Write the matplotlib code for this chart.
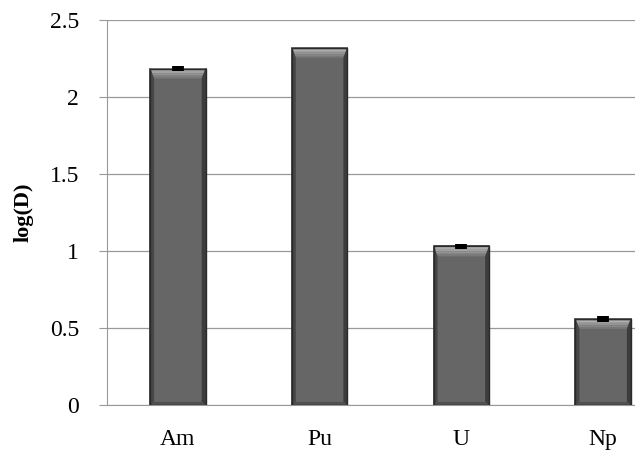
import numpy as np
import matplotlib.pyplot as plt
from matplotlib.patches import Polygon

plt.rcParams['font.family'] = ['Liberation Serif', 'DejaVu Serif']

elements = ['Am', 'Pu', 'U', 'Np']
log_d = [2.185, 2.32, 1.03, 0.56]
log_d_err = [0.018, 0.0, 0.018, 0.018]

W, H = 635, 453
fig = plt.figure(figsize=(W / 100, H / 100), dpi=100)
# right part of the plot area runs past the figure edge
ax = fig.add_axes([107 / W, 1 - 405 / H, (674 - 107) / W, (405 - 20) / H])

x = np.arange(len(elements))
width = 0.39
bars = ax.bar(x, log_d, width, color='#666666', edgecolor='#2e2e2e',
              linewidth=1.2, zorder=3)

# bevel shading on each bar
for b in bars:
    x0, y0 = b.get_x(), b.get_y()
    w, h = b.get_width(), b.get_height()
    dx = w * 0.07
    dy = 0.065
    yt = y0 + h
    # top bevel, light at the rim fading into the face
    n = 6
    for k in range(n):
        f0, f1 = k / n, (k + 1) / n
        c = 0.74 - 0.32 * f0
        ax.add_patch(Polygon([[x0 + dx * f0, yt - dy * f0], [x0 + w - dx * f0, yt - dy * f0],
                              [x0 + w - dx * f1, yt - dy * f1], [x0 + dx * f1, yt - dy * f1]],
                             closed=True, fc=(c, c, c), ec='none', zorder=4))
    left = Polygon([[x0, y0], [x0, yt], [x0 + dx, yt - dy],
                    [x0 + dx, y0 + 0.02]], closed=True, fc='#474747',
                   ec='none', zorder=4)
    right = Polygon([[x0 + w, y0], [x0 + w, yt], [x0 + w - dx, yt - dy],
                     [x0 + w - dx, y0 + 0.02]], closed=True, fc='#3c3c3c',
                    ec='none', zorder=4)
    bottom = Polygon([[x0, y0], [x0 + w, y0], [x0 + w - dx, y0 + 0.02],
                      [x0 + dx, y0 + 0.02]], closed=True, fc='#505050',
                     ec='none', zorder=4)
    for p in (left, right, bottom):
        ax.add_patch(p)
    ax.plot([x0, x0 + w, x0 + w, x0, x0], [y0, y0, yt, yt, y0],
            color='#2a2a2a', lw=1.0, zorder=5)

for xi, v, e in zip(x, log_d, log_d_err):
    if e > 0:
        ax.errorbar(xi, v, yerr=e, fmt='none', ecolor='black', elinewidth=8.5,
                    capsize=0, zorder=6)

ax.set_xlim(-0.5, 3.5)
ax.set_ylim(0, 2.5)
ax.set_yticks(np.arange(0, 2.51, 0.5))
ax.set_yticklabels(['0', '0.5', '1', '1.5', '2', '2.5'])
ax.set_xticks(x)
ax.set_xticklabels(elements)
ax.yaxis.grid(True, color='#999999', lw=0.9, zorder=0)
ax.set_axisbelow(True)
for s in ('top', 'right'):
    ax.spines[s].set_visible(False)
ax.spines['left'].set_color('#999999')
ax.spines['bottom'].set_color('#999999')
ax.tick_params(axis='y', length=6, color='#999999', labelsize=17, pad=14)
ax.tick_params(axis='x', length=0, labelsize=17, pad=17)
ax.set_ylabel('log(D)', fontsize=16, fontweight='bold', labelpad=12)

fig.savefig('out.png', dpi=100)
